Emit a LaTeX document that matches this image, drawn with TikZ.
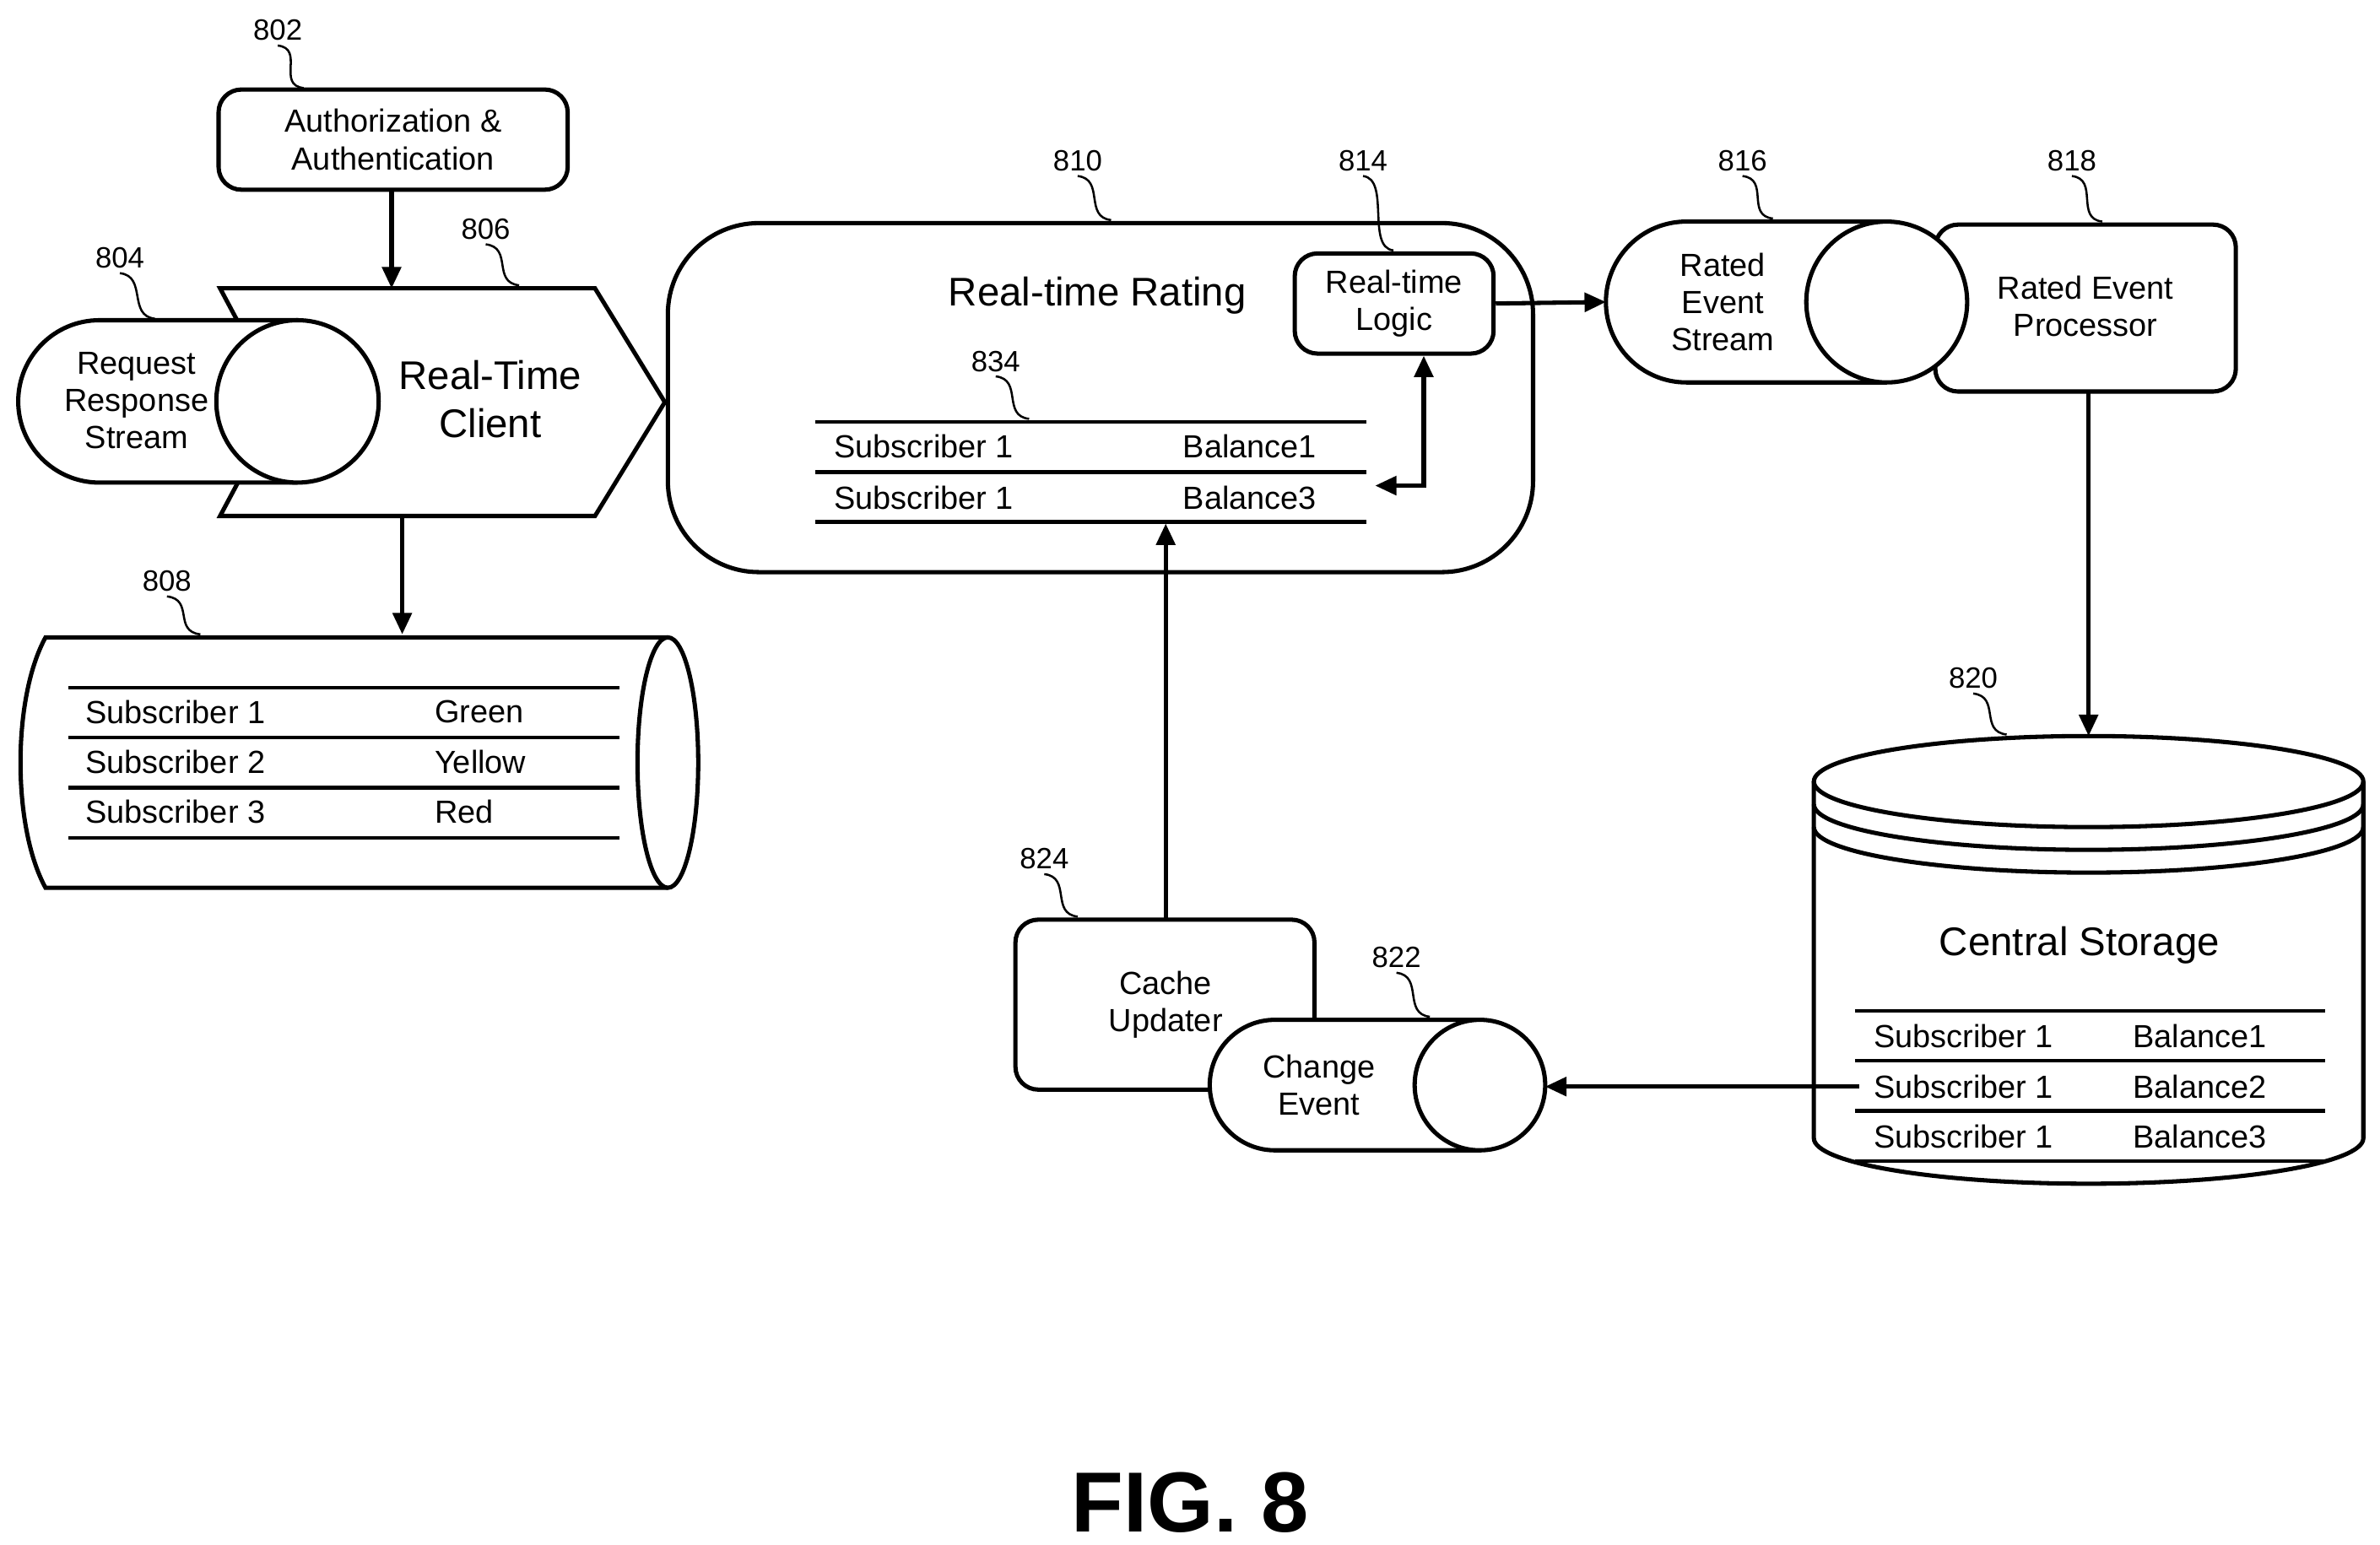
\documentclass[tikz,border=0pt]{standalone}
\usepackage{fontspec}
\setmainfont{Liberation Sans}
\usetikzlibrary{arrows.meta}
\begin{document}
\begin{tikzpicture}[x={(0.02cm,0)},y={(0,-0.02cm)},line width=1.6pt,
 box/.style={draw,rounded corners=0.3cm,fill=white},
 txt/.style={font=\fontsize{12}{14}\selectfont,align=center,inner sep=0},
 ltxt/.style={font=\fontsize{12}{14}\selectfont,anchor=west,inner sep=0},
 lab/.style={font=\fontsize{11}{13}\selectfont,inner sep=1pt},
 lead/.style={line width=0.8pt},
 arr/.style={-{Triangle[length=8pt,width=7pt]}},
 tl/.style={line width=1.4pt}]
\useasboundingbox (0,0) rectangle (1568,1018);
\newcommand{\leader}[4]{\node[lab] (#1) at (#2) {#3};
 \coordinate (#1e) at (#4);
 \draw[lead] (#1.south) .. controls +(18,2) and +(-18,-2) .. (#1e);}
% 802
\node[box,minimum width=230*0.02cm,minimum height=66*0.02cm,txt] (n802) at (259,92) {Authorization \&\\Authentication};
\leader{l802}{183,20}{802}{200,58}
% 806 chevron
\draw[fill=white] (145,190) coordinate (c806a) -- (392,190) -- (438,265) coordinate (c806tip) -- (392,340) -- (145,340) -- (185,265) -- cycle;
\node[txt,font=\fontsize{15}{18}\selectfont] (n806) at (323,263) {Real-Time\\Client};
\leader{l806}{320,151}{806}{342,188}
\draw[arr] (n802.south -| 258,0) -- (258,190);
% 804 cylinder
\draw[fill=white] (196,211) -- (65.5,211) arc[start angle=90,end angle=270,radius={53.5*0.02cm}] -- (196,318);
\draw[fill=white] (196,264.5) circle[radius={53.5*0.02cm}];
\node[txt] (n804) at (90,264) {Request\\Response\\Stream};
\leader{l804}{79,170}{804}{102,210}
% 808
\draw (440,420) -- (30,420) .. controls (8,460) and (8,545) .. (30,585) -- (440,585);
\draw (440,502.5) ellipse[x radius={20*0.02cm},y radius={82.5*0.02cm}];
\foreach \yy in {453,486,519,552} \draw[tl] (45,\yy) -- (408,\yy);
\node[ltxt] (s81) at (55,469) {Subscriber 1};
\node[ltxt] (s82) at (55,502) {Subscriber 2};
\node[ltxt] (s83) at (55,535) {Subscriber 3};
\node[ltxt] (c81) at (285,469) {Green};
\node[ltxt] (c82) at (285,502) {Yellow};
\node[ltxt] (c83) at (285,535) {Red};
\leader{l808}{110,383}{808}{132,418}
\coordinate (t808) at (265,418);
\draw[arr] (265,340) -- (t808);
% 810
\draw[rounded corners=1.2cm] (440,147) rectangle (1010,377);
\node[txt,font=\fontsize{15}{18}\selectfont] (n810) at (723,195) {Real-time Rating};
\leader{l810}{710,106}{810}{732,145}
% 814
\node[box,minimum width=131*0.02cm,minimum height=66*0.02cm,txt] (n814) at (918.5,200) {Real-time\\Logic};
\leader{l814}{898,106}{814}{918,165}
% 834
\foreach \yy in {278,311,344} \draw[tl] (537,\yy) -- (900,\yy);
\node[ltxt] (a1) at (548,294) {Subscriber 1};
\node[ltxt] (a2) at (548,328) {Subscriber 1};
\node[ltxt] (b1) at (778,294) {Balance1};
\node[ltxt] (b2) at (778,328) {Balance3};
\leader{l834}{656,238}{834}{678,276}
\coordinate (d834) at (906,320);
\draw[{Triangle[length=8pt,width=7pt]}-{Triangle[length=8pt,width=7pt]}] (d834) -- (938,320) -- (938,0 |- n814.south);
% 818
\node[box,minimum width=198*0.02cm,minimum height=110*0.02cm,txt] (n818) at (1374,203) {};
\node[txt] at (1374,202) {Rated Event\\Processor};
\leader{l818}{1365,106}{818}{1385,146}
% 816
\draw[fill=white] (1243,146) -- (1111,146) arc[start angle=90,end angle=270,radius={53*0.02cm}] -- (1243,252);
\draw[fill=white] (1243,199) circle[radius={53*0.02cm}];
\coordinate (n816w) at (1058,199);
\node[txt] (n816) at (1135,199) {Rated\\Event\\Stream};
\leader{l816}{1148,106}{816}{1168,144}
\draw[arr] (n814.east) -- (n816w);
% 820
\draw[fill=white] (1195,515) -- (1195,750) arc[start angle=180,end angle=360,x radius={181*0.02cm},y radius={30*0.02cm}] -- (1557,515);
\draw (1376,515) ellipse[x radius={181*0.02cm},y radius={30*0.02cm}];
\draw (1195,530) arc[start angle=180,end angle=360,x radius={181*0.02cm},y radius={30*0.02cm}];
\draw (1195,545) arc[start angle=180,end angle=360,x radius={181*0.02cm},y radius={30*0.02cm}];
\coordinate (t820) at (1376,485);
\draw[arr] (1376,258) -- (t820);
\node[txt,font=\fontsize{15}{18}\selectfont] (n820) at (1370,623) {Central Storage};
\foreach \yy in {666,699,732,765} \draw[tl] (1222,\yy) -- (1532,\yy);
\node[ltxt] (e1) at (1233,683) {Subscriber 1};
\node[ltxt] (e2) at (1233,716) {Subscriber 1};
\node[ltxt] (e3) at (1233,749) {Subscriber 1};
\node[ltxt] (f1) at (1404,683) {Balance1};
\node[ltxt] (f2) at (1404,716) {Balance2};
\node[ltxt] (f3) at (1404,749) {Balance3};
\leader{l820}{1300,447}{820}{1322,484}
% 824
\node[box,minimum width=197*0.02cm,minimum height=112*0.02cm] (n824) at (767.5,662) {};
\node[txt] (t824) at (768,662) {Cache\\Updater};
\leader{l824}{688,566}{824}{710,604}
\coordinate (t834) at (768,345);
\draw[arr] (768,606) -- (t834);
% 822
\draw[fill=white] (975,672) -- (840,672) arc[start angle=90,end angle=270,radius={43*0.02cm}] -- (975,758);
\draw[fill=white] (975,715) circle[radius={43*0.02cm}];
\node[txt] (n822) at (869,715) {Change\\Event};
\coordinate (n822e) at (1018,716);
\leader{l822}{920,631}{822}{942,670}
\coordinate (s820) at (1225,716);
\draw[arr] (s820) -- (n822e);
% fig
\node[font=\bfseries\fontsize{32}{36}\selectfont] (fig) at (784,990) {FIG. 8};
\end{tikzpicture}
\end{document}
